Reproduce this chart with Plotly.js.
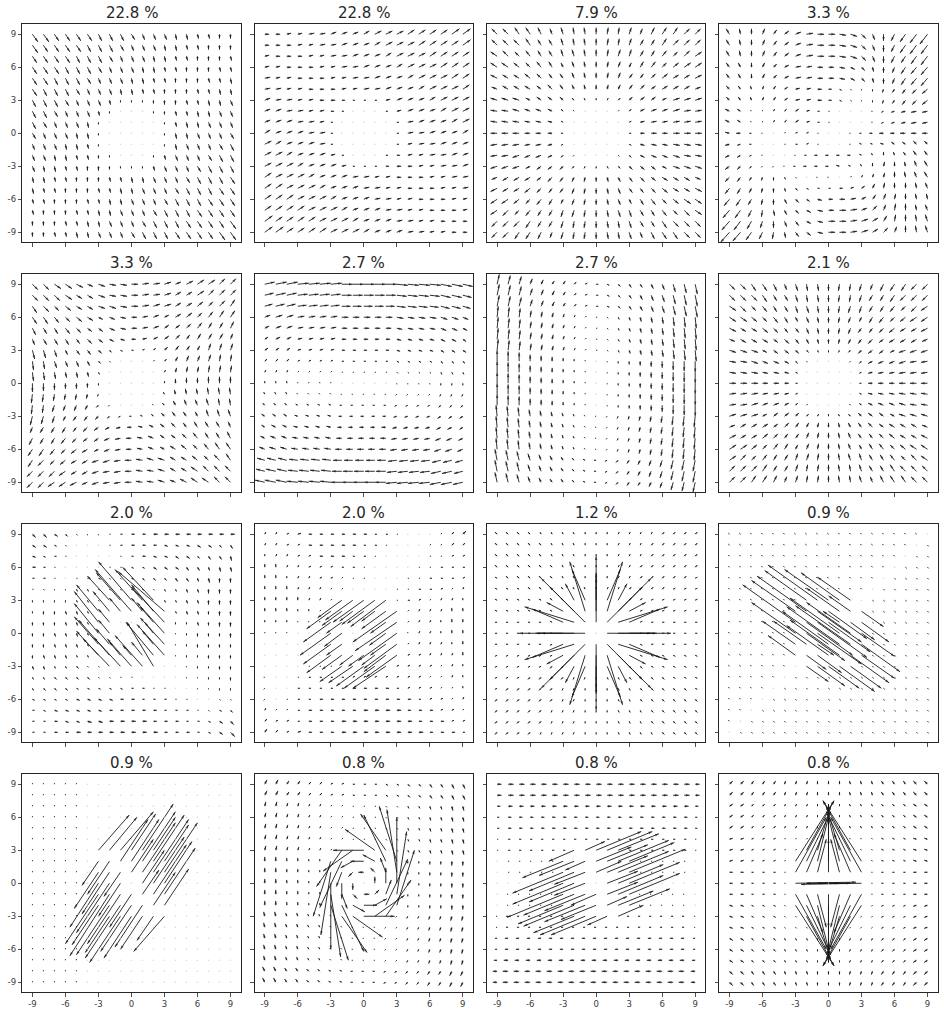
<!DOCTYPE html>
<html><head><meta charset="utf-8">
<script src="https://cdn.plot.ly/plotly-3.0.1.min.js"></script>
<style>html,body{margin:0;padding:0;background:#fff}</style>
</head><body>
<div id="chart" style="width:944px;height:1016px"></div>
<script>
const titles = ["22.8 %","22.8 %","7.9 %","3.3 %","3.3 %","2.7 %","2.7 %","2.1 %","2.0 %","2.0 %","1.2 %","0.9 %","0.9 %","0.8 %","0.8 %","0.8 %"];
const gridX = [-9,-8,-7,-6,-5,-4,-3,-2,-1,0,1,2,3,4,5,6,7,8,9];
const gridY = [9,8,7,6,5,4,3,2,1,0,-1,-2,-3,-4,-5,-6,-7,-8,-9];
const tickVals = [-9,-6,-3,0,3,6,9];
const tickText = ["-9","-6","-3","0","3","6","9"];

// vector components in tenths of an axis unit; rows y=9..-9, columns x=-9..9
const P1_U = [
[5,5,4,4,4,4,3,3,3,3,2,2,2,1,1,1,1,0,0],
[5,4,4,4,4,3,3,3,3,2,2,2,1,1,1,1,0,0,0],
[4,4,4,4,3,3,3,3,2,2,2,1,1,1,1,0,0,0,1],
[4,4,4,3,3,3,3,2,2,2,1,1,1,1,0,0,0,1,1],
[4,4,3,3,3,3,2,2,2,1,1,1,1,0,0,0,1,1,1],
[4,3,3,3,3,2,2,2,1,1,1,1,0,0,0,1,1,1,1],
[3,3,3,3,2,2,2,1,0,0,0,0,0,0,1,1,1,1,2],
[3,3,3,2,2,2,1,0,0,0,0,0,0,1,1,1,1,2,2],
[3,3,2,2,2,1,0,0,0,0,0,0,0,1,1,1,2,2,2],
[3,2,2,2,1,1,0,0,0,0,0,0,0,1,1,2,2,2,3],
[2,2,2,1,1,1,0,0,0,0,0,0,0,1,2,2,2,3,3],
[2,2,1,1,1,1,0,0,0,0,0,0,1,2,2,2,3,3,3],
[2,1,1,1,1,0,0,0,0,0,0,1,2,2,2,3,3,3,3],
[1,1,1,1,0,0,0,1,1,1,1,2,2,2,3,3,3,3,4],
[1,1,1,0,0,0,1,1,1,1,2,2,2,3,3,3,3,4,4],
[1,1,0,0,0,1,1,1,1,2,2,2,3,3,3,3,4,4,4],
[1,0,0,0,1,1,1,1,2,2,2,3,3,3,3,4,4,4,4],
[0,0,0,1,1,1,1,2,2,2,3,3,3,3,4,4,4,4,5],
[0,0,1,1,1,1,2,2,2,3,3,3,3,4,4,4,4,5,5]];
const P1_V = [
[-7,-7,-6,-6,-6,-6,-6,-6,-6,-5,-5,-5,-5,-5,-5,-4,-4,-4,-4],
[-7,-6,-6,-6,-6,-6,-6,-6,-5,-5,-5,-5,-5,-5,-4,-4,-4,-4,-4],
[-6,-6,-6,-6,-6,-6,-6,-5,-5,-5,-5,-5,-5,-4,-4,-4,-4,-4,-4],
[-6,-6,-6,-6,-6,-6,-5,-5,-5,-5,-5,-5,-4,-4,-4,-4,-4,-4,-4],
[-6,-6,-6,-6,-6,-5,-5,-5,-5,-5,-5,-4,-4,-4,-4,-4,-4,-4,-5],
[-6,-6,-6,-6,-5,-5,-5,-5,-5,-5,-4,-4,-4,-4,-4,-4,-4,-5,-5],
[-6,-6,-6,-5,-5,-5,-5,-4,-2,-2,-2,-3,-4,-4,-4,-4,-5,-5,-5],
[-6,-6,-5,-5,-5,-5,-4,-2,0,0,0,-2,-3,-4,-4,-5,-5,-5,-5],
[-6,-5,-5,-5,-5,-5,-2,0,0,0,0,0,-2,-4,-5,-5,-5,-5,-5],
[-5,-5,-5,-5,-5,-5,-2,0,0,0,0,0,-2,-5,-5,-5,-5,-5,-5],
[-5,-5,-5,-5,-5,-4,-2,0,0,0,0,0,-2,-5,-5,-5,-5,-5,-6],
[-5,-5,-5,-5,-4,-4,-3,-2,0,0,0,-2,-4,-5,-5,-5,-5,-6,-6],
[-5,-5,-5,-4,-4,-4,-4,-3,-2,-2,-2,-4,-5,-5,-5,-5,-6,-6,-6],
[-5,-5,-4,-4,-4,-4,-4,-4,-4,-5,-5,-5,-5,-5,-5,-6,-6,-6,-6],
[-5,-4,-4,-4,-4,-4,-4,-4,-5,-5,-5,-5,-5,-5,-6,-6,-6,-6,-6],
[-4,-4,-4,-4,-4,-4,-4,-5,-5,-5,-5,-5,-5,-6,-6,-6,-6,-6,-6],
[-4,-4,-4,-4,-4,-4,-5,-5,-5,-5,-5,-5,-6,-6,-6,-6,-6,-6,-6],
[-4,-4,-4,-4,-4,-5,-5,-5,-5,-5,-5,-6,-6,-6,-6,-6,-6,-6,-7],
[-4,-4,-4,-4,-5,-5,-5,-5,-5,-5,-6,-6,-6,-6,-6,-6,-6,-7,-7]];

const P2_U = [
[4,4,4,4,5,5,5,5,5,5,6,6,6,6,6,6,6,7,7],
[4,4,4,4,4,5,5,5,5,5,5,6,6,6,6,6,6,6,7],
[4,4,4,4,4,4,5,5,5,5,5,5,6,6,6,6,6,6,6],
[4,4,4,4,4,4,4,5,5,5,5,5,5,6,6,6,6,6,6],
[5,4,4,4,4,4,4,4,5,5,5,5,5,5,6,6,6,6,6],
[5,5,4,4,4,4,4,4,4,5,5,5,5,5,5,6,6,6,6],
[5,5,5,4,4,4,4,3,2,2,2,4,5,5,5,5,6,6,6],
[5,5,5,5,4,4,3,2,0,0,0,2,4,5,5,5,5,6,6],
[5,5,5,5,5,4,2,0,0,0,0,0,2,5,5,5,5,5,6],
[5,5,5,5,5,5,2,0,0,0,0,0,2,5,5,5,5,5,5],
[6,5,5,5,5,5,2,0,0,0,0,0,2,4,5,5,5,5,5],
[6,6,5,5,5,5,4,2,0,0,0,2,3,4,4,5,5,5,5],
[6,6,6,5,5,5,5,4,2,2,2,3,4,4,4,4,5,5,5],
[6,6,6,6,5,5,5,5,5,5,4,4,4,4,4,4,4,5,5],
[6,6,6,6,6,5,5,5,5,5,5,4,4,4,4,4,4,4,5],
[6,6,6,6,6,6,5,5,5,5,5,5,4,4,4,4,4,4,4],
[6,6,6,6,6,6,6,5,5,5,5,5,5,4,4,4,4,4,4],
[7,6,6,6,6,6,6,6,5,5,5,5,5,5,4,4,4,4,4],
[7,7,6,6,6,6,6,6,6,5,5,5,5,5,5,4,4,4,4]];
const P2_V = [
[0,0,1,1,1,1,2,2,2,3,3,3,3,4,4,4,4,5,5],
[0,0,0,1,1,1,1,2,2,2,3,3,3,3,4,4,4,4,5],
[1,0,0,0,1,1,1,1,2,2,2,3,3,3,3,4,4,4,4],
[1,1,0,0,0,1,1,1,1,2,2,2,3,3,3,3,4,4,4],
[1,1,1,0,0,0,1,1,1,1,2,2,2,3,3,3,3,4,4],
[1,1,1,1,0,0,0,1,1,1,1,2,2,2,3,3,3,3,4],
[2,1,1,1,1,0,0,0,0,0,0,1,2,2,2,3,3,3,3],
[2,2,1,1,1,1,0,0,0,0,0,0,1,2,2,2,3,3,3],
[2,2,2,1,1,1,0,0,0,0,0,0,0,1,2,2,2,3,3],
[3,2,2,2,1,1,0,0,0,0,0,0,0,1,1,2,2,2,3],
[3,3,2,2,2,1,0,0,0,0,0,0,0,1,1,1,2,2,2],
[3,3,3,2,2,2,1,0,0,0,0,0,0,1,1,1,1,2,2],
[3,3,3,3,2,2,2,1,0,0,0,0,0,0,1,1,1,1,2],
[4,3,3,3,3,2,2,2,1,1,1,1,0,0,0,1,1,1,1],
[4,4,3,3,3,3,2,2,2,1,1,1,1,0,0,0,1,1,1],
[4,4,4,3,3,3,3,2,2,2,1,1,1,1,0,0,0,1,1],
[4,4,4,4,3,3,3,3,2,2,2,1,1,1,1,0,0,0,1],
[5,4,4,4,4,3,3,3,3,2,2,2,1,1,1,1,0,0,0],
[5,5,4,4,4,4,3,3,3,3,2,2,2,1,1,1,1,0,0]];

const P3_U = [
[-5,-5,-4,-4,-3,-2,-2,-1,-1,0,1,1,2,2,3,4,4,5,5],
[-5,-5,-5,-4,-3,-3,-2,-1,-1,0,1,1,2,3,3,4,5,5,5],
[-6,-5,-4,-4,-3,-3,-2,-2,-1,0,1,2,2,3,3,4,4,5,6],
[-6,-6,-5,-4,-4,-3,-2,-2,-1,0,1,2,2,3,4,4,5,6,6],
[-6,-5,-5,-5,-4,-3,-3,-2,-1,0,1,2,3,3,4,5,5,5,6],
[-5,-5,-5,-5,-4,-4,-3,-2,-1,0,1,2,3,4,4,5,5,5,5],
[-6,-6,-6,-4,-4,-4,-3,-2,-1,0,1,2,3,4,4,4,6,6,6],
[-6,-6,-6,-5,-5,-4,-2,-1,0,0,0,1,2,4,5,5,6,6,6],
[-6,-6,-6,-5,-5,-4,-2,0,0,0,0,0,2,4,5,5,6,6,6],
[-6,-6,-6,-5,-5,-4,-2,0,0,0,0,0,2,4,5,5,6,6,6],
[-6,-6,-6,-5,-5,-4,-2,0,0,0,0,0,2,4,5,5,6,6,6],
[-6,-6,-6,-5,-5,-4,-2,-1,0,0,0,1,2,4,5,5,6,6,6],
[-6,-6,-6,-4,-4,-4,-3,-2,-1,0,1,2,3,4,4,4,6,6,6],
[-5,-5,-5,-5,-4,-4,-3,-2,-1,0,1,2,3,4,4,5,5,5,5],
[-6,-5,-5,-5,-4,-3,-3,-2,-1,0,1,2,3,3,4,5,5,5,6],
[-6,-6,-5,-4,-4,-3,-2,-2,-1,0,1,2,2,3,4,4,5,6,6],
[-6,-5,-4,-4,-3,-3,-2,-2,-1,0,1,2,2,3,3,4,4,5,6],
[-5,-5,-5,-4,-3,-3,-2,-1,-1,0,1,1,2,3,3,4,5,5,5],
[-5,-5,-4,-4,-3,-2,-2,-1,-1,0,1,1,2,2,3,4,4,5,5]];
const P3_V = [
[5,5,6,6,6,5,6,6,6,6,6,6,6,5,6,6,6,5,5],
[5,5,5,6,5,5,6,6,6,6,6,6,6,5,5,6,5,5,5],
[4,5,4,5,5,5,6,6,6,6,6,6,6,5,5,5,4,5,4],
[4,4,4,4,5,5,4,5,5,5,5,5,4,5,5,4,4,4,4],
[3,3,3,4,4,4,4,5,5,5,5,5,4,4,4,4,3,3,3],
[2,3,3,3,3,4,4,4,4,4,4,4,4,4,3,3,3,3,2],
[2,2,2,2,3,3,3,2,2,2,2,2,3,3,3,2,2,2,2],
[1,1,2,2,2,2,2,1,0,0,0,1,2,2,2,2,2,1,1],
[1,1,1,1,1,1,1,0,0,0,0,0,1,1,1,1,1,1,1],
[0,0,0,0,0,0,0,0,0,0,0,0,0,0,0,0,0,0,0],
[-1,-1,-1,-1,-1,-1,-1,0,0,0,0,0,-1,-1,-1,-1,-1,-1,-1],
[-1,-1,-2,-2,-2,-2,-2,-1,0,0,0,-1,-2,-2,-2,-2,-2,-1,-1],
[-2,-2,-2,-2,-3,-3,-3,-2,-2,-2,-2,-2,-3,-3,-3,-2,-2,-2,-2],
[-2,-3,-3,-3,-3,-4,-4,-4,-4,-4,-4,-4,-4,-4,-3,-3,-3,-3,-2],
[-3,-3,-3,-4,-4,-4,-4,-5,-5,-5,-5,-5,-4,-4,-4,-4,-3,-3,-3],
[-4,-4,-4,-4,-5,-5,-4,-5,-5,-5,-5,-5,-4,-5,-5,-4,-4,-4,-4],
[-4,-5,-4,-5,-5,-5,-6,-6,-6,-6,-6,-6,-6,-5,-5,-5,-4,-5,-4],
[-5,-5,-5,-6,-5,-5,-6,-6,-6,-6,-6,-6,-6,-5,-5,-6,-5,-5,-5],
[-5,-5,-6,-6,-6,-5,-6,-6,-6,-6,-6,-6,-6,-5,-6,-6,-6,-5,-5]];

const P4_U = [
[-3,-1,0,2,3,4,5,6,6,6,6,6,4,2,0,-3,-5,-6,-7],
[-3,-1,0,2,3,4,5,6,6,6,6,6,4,2,0,-3,-5,-6,-6],
[-3,-1,0,2,3,4,5,6,6,6,6,6,4,2,0,-3,-4,-5,-6],
[-3,-2,0,2,3,4,5,5,5,5,5,4,3,1,0,-2,-4,-5,-6],
[-3,-2,0,2,3,4,5,5,5,5,5,4,3,1,0,-2,-4,-5,-6],
[-3,-2,-1,1,2,3,4,4,4,3,2,1,0,0,-1,-2,-3,-4,-5],
[-3,-2,-1,1,2,3,4,4,4,3,2,1,0,0,-1,-2,-3,-4,-5],
[-4,-3,-1,0,1,2,3,3,2,1,0,0,0,-1,-2,-3,-4,-5,-5],
[-4,-3,-1,0,1,2,3,3,2,1,0,0,0,-1,-2,-3,-4,-5,-5],
[-4,-4,-2,-1,0,1,2,2,1,0,0,-1,-2,-3,-4,-4,-5,-5,-5],
[-4,-3,-2,0,0,1,2,2,1,0,0,-1,-2,-2,-3,-3,-3,-3,-3],
[-4,-3,-2,-1,0,0,-1,-2,-3,-3,-3,-3,-2,-1,0,-1,-2,-3,-3],
[-4,-3,-2,-1,-1,-1,-2,-3,-3,-3,-3,-2,-1,0,1,0,-1,-2,-3],
[-4,-3,-2,-1,0,1,1,0,-1,-1,0,1,1,1,1,0,-1,-2,-3],
[-4,-3,-2,-1,0,1,2,2,2,2,3,3,3,2,1,0,0,-1,-2],
[-5,-4,-3,-1,0,2,3,3,4,4,5,5,4,3,2,1,0,-1,-1],
[-6,-5,-3,-1,1,2,3,4,5,5,6,6,5,4,2,1,0,-1,-2],
[-7,-6,-4,-2,0,2,3,4,5,6,6,6,6,5,3,1,0,-1,-2],
[-8,-7,-5,-3,-1,1,3,4,5,6,6,6,6,5,4,2,0,-1,-2]];
const P4_V = [
[5,5,5,5,4,3,2,1,0,0,-1,-2,-4,-5,-6,-6,-7,-8,-9],
[5,5,5,5,4,3,2,1,0,0,-1,-2,-4,-5,-6,-6,-7,-8,-8],
[5,5,5,5,4,3,2,1,0,0,-1,-2,-4,-5,-6,-6,-6,-7,-8],
[4,4,4,4,3,2,1,1,0,0,-1,-2,-3,-4,-5,-5,-6,-6,-7],
[4,4,4,4,3,2,1,1,0,0,-1,-2,-3,-4,-5,-5,-6,-6,-7],
[3,3,3,3,3,2,1,1,0,0,-1,-1,-1,-2,-3,-3,-4,-4,-4],
[3,3,3,3,3,2,1,1,0,0,-1,-1,-1,-2,-3,-3,-4,-4,-4],
[2,2,1,1,2,2,2,1,0,0,0,0,0,0,-1,-1,-1,-1,-1],
[2,2,1,1,2,2,2,1,0,0,0,0,0,0,-1,-1,-1,-1,-1],
[1,0,0,0,0,1,1,1,0,0,0,0,0,0,0,0,0,0,0],
[-1,-1,0,0,0,0,0,1,0,0,0,0,1,1,1,2,2,3,3],
[-2,-2,-1,0,0,0,0,0,0,0,0,0,1,2,3,3,3,4,4],
[-3,-3,-2,-1,-1,0,0,0,0,0,1,1,2,3,4,4,4,5,5],
[-4,-4,-3,-3,-3,-2,-1,0,0,0,0,1,2,3,4,5,5,5,5],
[-5,-5,-4,-4,-4,-3,-2,-1,0,0,0,1,2,4,5,5,5,5,5],
[-6,-6,-5,-5,-5,-4,-3,-2,-1,0,0,1,2,4,5,5,5,5,5],
[-7,-7,-6,-6,-5,-4,-3,-2,-1,0,0,1,2,4,5,6,6,5,5],
[-8,-8,-7,-6,-6,-5,-4,-2,-1,0,0,1,2,3,5,6,6,6,6],
[-9,-8,-7,-6,-6,-5,-4,-3,-1,0,0,1,2,3,4,5,6,6,6]];

const P5_U = [
[5,5,6,6,6,5,6,6,6,6,6,6,6,5,6,6,6,5,5],
[5,5,5,6,5,5,6,6,6,6,6,6,6,5,5,6,5,5,5],
[4,5,4,5,5,5,6,6,6,6,6,6,6,5,5,5,4,5,4],
[4,4,4,4,5,5,4,5,5,5,5,5,4,5,5,4,4,4,4],
[3,3,3,4,4,4,4,5,5,5,5,5,4,4,4,4,3,3,3],
[2,3,3,3,3,4,4,4,4,4,4,4,4,4,3,3,3,3,2],
[2,2,2,2,3,3,3,2,2,2,2,2,3,3,3,2,2,2,2],
[1,1,2,2,2,2,2,1,0,0,0,1,2,2,2,2,2,1,1],
[1,1,1,1,1,1,1,0,0,0,0,0,1,1,1,1,1,1,1],
[0,0,0,0,0,0,0,0,0,0,0,0,0,0,0,0,0,0,0],
[-1,-1,-1,-1,-1,-1,-1,0,0,0,0,0,-1,-1,-1,-1,-1,-1,-1],
[-1,-1,-2,-2,-2,-2,-2,-1,0,0,0,-1,-2,-2,-2,-2,-2,-1,-1],
[-2,-2,-2,-2,-3,-3,-3,-2,-2,-2,-2,-2,-3,-3,-3,-2,-2,-2,-2],
[-2,-3,-3,-3,-3,-4,-4,-4,-4,-4,-4,-4,-4,-4,-3,-3,-3,-3,-2],
[-3,-3,-3,-4,-4,-4,-4,-5,-5,-5,-5,-5,-4,-4,-4,-4,-3,-3,-3],
[-4,-4,-4,-4,-5,-5,-4,-5,-5,-5,-5,-5,-4,-5,-5,-4,-4,-4,-4],
[-4,-5,-4,-5,-5,-5,-6,-6,-6,-6,-6,-6,-6,-5,-5,-5,-4,-5,-4],
[-5,-5,-5,-6,-5,-5,-6,-6,-6,-6,-6,-6,-6,-5,-5,-6,-5,-5,-5],
[-5,-5,-6,-6,-6,-5,-6,-6,-6,-6,-6,-6,-6,-5,-6,-6,-6,-5,-5]];
const P5_V = [
[-5,-5,-4,-4,-3,-2,-2,-1,-1,0,1,1,2,2,3,4,4,5,5],
[-5,-5,-5,-4,-3,-3,-2,-1,-1,0,1,1,2,3,3,4,5,5,5],
[-6,-5,-4,-4,-3,-3,-2,-2,-1,0,1,2,2,3,3,4,4,5,6],
[-6,-6,-5,-4,-4,-3,-2,-2,-1,0,1,2,2,3,4,4,5,6,6],
[-6,-5,-5,-5,-4,-3,-3,-2,-1,0,1,2,3,3,4,5,5,5,6],
[-5,-5,-5,-5,-4,-4,-3,-2,-1,0,1,2,3,4,4,5,5,5,5],
[-8,-7,-6,-4,-4,-4,-3,-2,-1,0,1,2,3,4,4,4,6,6,6],
[-8,-7,-6,-5,-5,-4,-2,-1,0,0,0,1,2,4,5,5,6,6,6],
[-8,-7,-6,-5,-5,-4,-2,0,0,0,0,0,2,4,5,5,6,6,6],
[-8,-7,-6,-5,-5,-4,-2,0,0,0,0,0,2,4,5,5,6,6,6],
[-8,-7,-6,-5,-5,-4,-2,0,0,0,0,0,2,4,5,5,6,6,6],
[-8,-7,-6,-5,-5,-4,-2,-1,0,0,0,1,2,4,5,5,6,6,6],
[-8,-7,-6,-4,-4,-4,-3,-2,-1,0,1,2,3,4,4,4,6,6,6],
[-5,-5,-5,-5,-4,-4,-3,-2,-1,0,1,2,3,4,4,5,5,5,5],
[-6,-5,-5,-5,-4,-3,-3,-2,-1,0,1,2,3,3,4,5,5,5,6],
[-6,-6,-5,-4,-4,-3,-2,-2,-1,0,1,2,2,3,4,4,5,6,6],
[-6,-5,-4,-4,-3,-3,-2,-2,-1,0,1,2,2,3,3,4,4,5,6],
[-5,-5,-5,-4,-3,-3,-2,-1,-1,0,1,1,2,3,3,4,5,5,5],
[-5,-5,-4,-4,-3,-2,-2,-1,-1,0,1,1,2,2,3,4,4,5,5]];

const P6_U = [
[9,10,10,10,10,10,10,10,10,10,10,10,10,10,10,10,10,10,9],
[8,9,9,9,9,9,9,9,9,9,9,9,9,9,9,9,9,9,8],
[7,8,8,8,8,8,8,8,8,8,8,8,8,8,8,8,8,8,7],
[5,6,6,6,6,6,6,6,6,6,6,6,6,6,6,6,6,6,5],
[4,5,5,5,5,5,5,5,5,5,5,5,5,5,5,5,5,5,4],
[3,4,4,4,4,4,4,4,4,4,4,4,4,4,4,4,4,4,3],
[3,3,3,3,3,3,3,3,3,3,3,3,3,3,3,3,3,3,3],
[2,2,2,2,2,2,2,2,2,2,2,2,2,2,2,2,2,2,2],
[1,1,1,1,1,1,1,1,1,1,1,1,1,1,1,1,1,1,1],
[0,0,0,0,0,0,0,0,0,0,0,0,0,0,0,0,0,0,0],
[-1,-1,-1,-1,-1,-1,-1,-1,-1,-1,-1,-1,-1,-1,-1,-1,-1,-1,-1],
[-2,-2,-2,-2,-2,-2,-2,-2,-2,-2,-2,-2,-2,-2,-2,-2,-2,-2,-2],
[-3,-3,-3,-3,-3,-3,-3,-3,-3,-3,-3,-3,-3,-3,-3,-3,-3,-3,-3],
[-3,-4,-4,-4,-4,-4,-4,-4,-4,-4,-4,-4,-4,-4,-4,-4,-4,-4,-3],
[-4,-5,-5,-5,-5,-5,-5,-5,-5,-5,-5,-5,-5,-5,-5,-5,-5,-5,-4],
[-5,-6,-6,-6,-6,-6,-6,-6,-6,-6,-6,-6,-6,-6,-6,-6,-6,-6,-5],
[-7,-8,-8,-8,-8,-8,-8,-8,-8,-8,-8,-8,-8,-8,-8,-8,-8,-8,-7],
[-8,-9,-9,-9,-9,-9,-9,-9,-9,-9,-9,-9,-9,-9,-9,-9,-9,-9,-8],
[-9,-10,-10,-10,-10,-10,-10,-10,-10,-10,-10,-10,-10,-10,-10,-10,-10,-10,-9]];
const P6_V = [
[2,2,2,1,1,1,1,0,0,0,0,0,-1,-1,-1,-1,-2,-2,-2],
[2,2,2,1,1,1,1,0,0,0,0,0,-1,-1,-1,-1,-2,-2,-2],
[2,2,2,1,1,1,1,0,0,0,0,0,-1,-1,-1,-1,-2,-2,-2],
[2,2,2,1,1,1,1,0,0,0,0,0,-1,-1,-1,-1,-2,-2,-2],
[2,2,2,1,1,1,1,0,0,0,0,0,-1,-1,-1,-1,-2,-2,-2],
[2,2,2,1,1,1,1,0,0,0,0,0,-1,-1,-1,-1,-2,-2,-2],
[2,2,2,1,1,1,1,0,0,0,0,0,-1,-1,-1,-1,-2,-2,-2],
[2,2,2,1,1,1,1,0,0,0,0,0,-1,-1,-1,-1,-2,-2,-2],
[2,2,2,1,1,1,1,0,0,0,0,0,-1,-1,-1,-1,-2,-2,-2],
[2,2,2,1,1,1,1,0,0,0,0,0,-1,-1,-1,-1,-2,-2,-2],
[2,2,2,1,1,1,1,0,0,0,0,0,-1,-1,-1,-1,-2,-2,-2],
[2,2,2,1,1,1,1,0,0,0,0,0,-1,-1,-1,-1,-2,-2,-2],
[2,2,2,1,1,1,1,0,0,0,0,0,-1,-1,-1,-1,-2,-2,-2],
[2,2,2,1,1,1,1,0,0,0,0,0,-1,-1,-1,-1,-2,-2,-2],
[2,2,2,1,1,1,1,0,0,0,0,0,-1,-1,-1,-1,-2,-2,-2],
[2,2,2,1,1,1,1,0,0,0,0,0,-1,-1,-1,-1,-2,-2,-2],
[2,2,2,1,1,1,1,0,0,0,0,0,-1,-1,-1,-1,-2,-2,-2],
[2,2,2,1,1,1,1,0,0,0,0,0,-1,-1,-1,-1,-2,-2,-2],
[2,2,2,1,1,1,1,0,0,0,0,0,-1,-1,-1,-1,-2,-2,-2]];

const P7_U = [
[2,2,2,2,2,2,2,2,2,2,2,2,2,2,2,2,2,2,2],
[2,2,2,2,2,2,2,2,2,2,2,2,2,2,2,2,2,2,2],
[2,2,2,2,2,2,2,2,2,2,2,2,2,2,2,2,2,2,2],
[1,1,1,1,1,1,1,1,1,1,1,1,1,1,1,1,1,1,1],
[1,1,1,1,1,1,1,1,1,1,1,1,1,1,1,1,1,1,1],
[1,1,1,1,1,1,1,1,1,1,1,1,1,1,1,1,1,1,1],
[1,1,1,1,1,1,1,1,1,1,1,1,1,1,1,1,1,1,1],
[0,0,0,0,0,0,0,0,0,0,0,0,0,0,0,0,0,0,0],
[0,0,0,0,0,0,0,0,0,0,0,0,0,0,0,0,0,0,0],
[0,0,0,0,0,0,0,0,0,0,0,0,0,0,0,0,0,0,0],
[0,0,0,0,0,0,0,0,0,0,0,0,0,0,0,0,0,0,0],
[0,0,0,0,0,0,0,0,0,0,0,0,0,0,0,0,0,0,0],
[-1,-1,-1,-1,-1,-1,-1,-1,-1,-1,-1,-1,-1,-1,-1,-1,-1,-1,-1],
[-1,-1,-1,-1,-1,-1,-1,-1,-1,-1,-1,-1,-1,-1,-1,-1,-1,-1,-1],
[-1,-1,-1,-1,-1,-1,-1,-1,-1,-1,-1,-1,-1,-1,-1,-1,-1,-1,-1],
[-1,-1,-1,-1,-1,-1,-1,-1,-1,-1,-1,-1,-1,-1,-1,-1,-1,-1,-1],
[-2,-2,-2,-2,-2,-2,-2,-2,-2,-2,-2,-2,-2,-2,-2,-2,-2,-2,-2],
[-2,-2,-2,-2,-2,-2,-2,-2,-2,-2,-2,-2,-2,-2,-2,-2,-2,-2,-2],
[-2,-2,-2,-2,-2,-2,-2,-2,-2,-2,-2,-2,-2,-2,-2,-2,-2,-2,-2]];
const P7_V = [
[9,8,7,5,4,3,3,2,1,0,-1,-2,-3,-3,-4,-5,-7,-8,-9],
[10,9,8,6,5,4,3,2,1,0,-1,-2,-3,-4,-5,-6,-8,-9,-10],
[10,9,8,6,5,4,3,2,1,0,-1,-2,-3,-4,-5,-6,-8,-9,-10],
[10,9,8,6,5,4,3,2,1,0,-1,-2,-3,-4,-5,-6,-8,-9,-10],
[10,9,8,6,5,4,3,2,1,0,-1,-2,-3,-4,-5,-6,-8,-9,-10],
[10,9,8,6,5,4,3,2,1,0,-1,-2,-3,-4,-5,-6,-8,-9,-10],
[10,9,8,6,5,4,3,2,1,0,-1,-2,-3,-4,-5,-6,-8,-9,-10],
[10,9,8,6,5,4,3,2,1,0,-1,-2,-3,-4,-5,-6,-8,-9,-10],
[10,9,8,6,5,4,3,2,1,0,-1,-2,-3,-4,-5,-6,-8,-9,-10],
[10,9,8,6,5,4,3,2,1,0,-1,-2,-3,-4,-5,-6,-8,-9,-10],
[10,9,8,6,5,4,3,2,1,0,-1,-2,-3,-4,-5,-6,-8,-9,-10],
[10,9,8,6,5,4,3,2,1,0,-1,-2,-3,-4,-5,-6,-8,-9,-10],
[10,9,8,6,5,4,3,2,1,0,-1,-2,-3,-4,-5,-6,-8,-9,-10],
[10,9,8,6,5,4,3,2,1,0,-1,-2,-3,-4,-5,-6,-8,-9,-10],
[10,9,8,6,5,4,3,2,1,0,-1,-2,-3,-4,-5,-6,-8,-9,-10],
[10,9,8,6,5,4,3,2,1,0,-1,-2,-3,-4,-5,-6,-8,-9,-10],
[10,9,8,6,5,4,3,2,1,0,-1,-2,-3,-4,-5,-6,-8,-9,-10],
[10,9,8,6,5,4,3,2,1,0,-1,-2,-3,-4,-5,-6,-8,-9,-10],
[9,8,7,5,4,3,3,2,1,0,-1,-2,-3,-3,-4,-5,-7,-8,-9]];

const P8_U = [
[5,5,4,4,3,2,2,1,1,0,-1,-1,-2,-2,-3,-4,-4,-5,-5],
[5,5,5,4,3,3,2,1,1,0,-1,-1,-2,-3,-3,-4,-5,-5,-5],
[6,5,4,4,3,3,2,2,1,0,-1,-2,-2,-3,-3,-4,-4,-5,-6],
[6,6,5,4,4,3,2,2,1,0,-1,-2,-2,-3,-4,-4,-5,-6,-6],
[6,5,5,5,4,3,3,2,1,0,-1,-2,-3,-3,-4,-5,-5,-5,-6],
[5,5,5,5,4,4,3,2,1,0,-1,-2,-3,-4,-4,-5,-5,-5,-5],
[6,6,6,4,4,4,3,2,1,0,-1,-2,-3,-4,-4,-4,-6,-6,-6],
[6,6,6,5,5,4,2,1,0,0,0,-1,-2,-4,-5,-5,-6,-6,-6],
[6,6,6,5,5,4,2,0,0,0,0,0,-2,-4,-5,-5,-6,-6,-6],
[6,6,6,5,5,4,2,0,0,0,0,0,-2,-4,-5,-5,-6,-6,-6],
[6,6,6,5,5,4,2,0,0,0,0,0,-2,-4,-5,-5,-6,-6,-6],
[6,6,6,5,5,4,2,1,0,0,0,-1,-2,-4,-5,-5,-6,-6,-6],
[6,6,6,4,4,4,3,2,1,0,-1,-2,-3,-4,-4,-4,-6,-6,-6],
[5,5,5,5,4,4,3,2,1,0,-1,-2,-3,-4,-4,-5,-5,-5,-5],
[6,5,5,5,4,3,3,2,1,0,-1,-2,-3,-3,-4,-5,-5,-5,-6],
[6,6,5,4,4,3,2,2,1,0,-1,-2,-2,-3,-4,-4,-5,-6,-6],
[6,5,4,4,3,3,2,2,1,0,-1,-2,-2,-3,-3,-4,-4,-5,-6],
[5,5,5,4,3,3,2,1,1,0,-1,-1,-2,-3,-3,-4,-5,-5,-5],
[5,5,4,4,3,2,2,1,1,0,-1,-1,-2,-2,-3,-4,-4,-5,-5]];
const P8_V = [
[-5,-5,-6,-6,-6,-5,-6,-6,-6,-6,-6,-6,-6,-5,-6,-6,-6,-5,-5],
[-5,-5,-5,-6,-5,-5,-6,-6,-6,-6,-6,-6,-6,-5,-5,-6,-5,-5,-5],
[-4,-5,-4,-5,-5,-5,-6,-6,-6,-6,-6,-6,-6,-5,-5,-5,-4,-5,-4],
[-4,-4,-4,-4,-5,-5,-4,-5,-5,-5,-5,-5,-4,-5,-5,-4,-4,-4,-4],
[-3,-3,-3,-4,-4,-4,-4,-5,-5,-5,-5,-5,-4,-4,-4,-4,-3,-3,-3],
[-2,-3,-3,-3,-3,-4,-4,-4,-4,-4,-4,-4,-4,-4,-3,-3,-3,-3,-2],
[-2,-2,-2,-2,-3,-3,-3,-2,-2,-2,-2,-2,-3,-3,-3,-2,-2,-2,-2],
[-1,-1,-2,-2,-2,-2,-2,-1,0,0,0,-1,-2,-2,-2,-2,-2,-1,-1],
[-1,-1,-1,-1,-1,-1,-1,0,0,0,0,0,-1,-1,-1,-1,-1,-1,-1],
[0,0,0,0,0,0,0,0,0,0,0,0,0,0,0,0,0,0,0],
[1,1,1,1,1,1,1,0,0,0,0,0,1,1,1,1,1,1,1],
[1,1,2,2,2,2,2,1,0,0,0,1,2,2,2,2,2,1,1],
[2,2,2,2,3,3,3,2,2,2,2,2,3,3,3,2,2,2,2],
[2,3,3,3,3,4,4,4,4,4,4,4,4,4,3,3,3,3,2],
[3,3,3,4,4,4,4,5,5,5,5,5,4,4,4,4,3,3,3],
[4,4,4,4,5,5,4,5,5,5,5,5,4,5,5,4,4,4,4],
[4,5,4,5,5,5,6,6,6,6,6,6,6,5,5,5,4,5,4],
[5,5,5,6,5,5,6,6,6,6,6,6,6,5,5,6,5,5,5],
[5,5,6,6,6,5,6,6,6,6,6,6,6,5,6,6,6,5,5]];

const P9_U = [
[3,3,3,2,1,0,0,1,2,3,3,4,4,4,4,4,4,4,4],
[3,3,2,1,0,0,0,1,2,3,3,3,3,3,3,3,3,2,2],
[3,2,2,1,0,0,0,0,1,2,3,3,3,3,3,2,2,2,1],
[3,2,1,0,0,0,0,1,1,2,2,3,3,3,2,2,1,1,1],
[2,2,1,0,1,1,2,1,1,2,2,2,2,2,2,1,1,0,0],
[1,1,0,0,1,1,1,1,1,1,1,1,1,1,1,1,0,0,0],
[0,0,0,0,1,1,1,-20,-22,-30,-25,-28,1,1,1,1,0,0,0],
[0,0,0,1,1,1,-20,-15,-10,-33,-10,-20,-42,1,1,1,0,0,0],
[0,0,0,1,1,1,-22,-10,0,0,0,-12,-30,0,0,1,0,0,0],
[0,0,1,1,1,1,-22,-10,0,0,0,-8,-25,0,0,0,0,0,0],
[0,0,1,1,1,1,-22,-12,0,0,0,-10,-22,0,0,0,0,0,0],
[0,1,1,1,1,1,-20,-28,-10,-8,-10,-25,-25,0,0,0,0,0,0],
[1,1,1,1,2,1,1,-24,-24,-22,-25,-24,0,0,0,0,0,0,0],
[1,1,2,2,2,2,1,1,1,1,0,0,0,0,0,0,0,0,0],
[1,2,2,2,2,2,2,2,2,2,2,1,1,0,0,0,0,0,0],
[2,2,2,2,3,3,3,3,3,3,2,2,2,1,1,0,0,1,1],
[2,2,3,3,3,3,3,3,3,3,3,3,2,2,2,1,1,2,2],
[2,2,3,3,3,4,4,4,4,4,4,3,3,3,2,2,2,3,3],
[2,2,3,3,4,4,4,4,4,4,4,4,3,3,3,2,2,3,4]];
const P9_V = [
[-3,-3,-2,-2,-1,-1,-1,0,0,0,0,0,0,0,0,0,0,0,0],
[-2,-2,-1,-1,0,0,0,0,0,0,0,0,-1,-1,-1,-2,-2,-2,-3],
[-1,-1,0,0,0,0,0,0,0,0,0,-1,-1,-2,-2,-2,-3,-3,-4],
[0,0,0,0,0,0,0,0,0,-1,-1,-2,-2,-2,-3,-3,-3,-4,-4],
[0,0,0,0,0,0,-1,-1,-1,-1,-2,-2,-2,-3,-3,-3,-4,-4,-4],
[0,-1,-1,-1,-2,-2,-1,-1,-1,-1,-1,-1,-2,-2,-3,-3,-4,-4,-4],
[-2,-2,-2,-2,-2,-2,-1,22,25,35,28,30,-2,-2,-3,-3,-4,-4,-4],
[-2,-3,-3,-3,-3,-2,24,18,12,38,12,24,36,-2,-3,-3,-3,-4,-4],
[-3,-3,-3,-3,-3,-2,28,12,0,0,0,14,32,-2,-2,-3,-3,-4,-4],
[-3,-3,-3,-3,-3,-2,27,12,0,0,0,10,28,-1,-2,-3,-3,-3,-4],
[-3,-3,-3,-3,-3,-2,25,14,0,0,0,12,24,-1,-2,-3,-3,-3,-3],
[-3,-3,-3,-3,-2,-2,22,32,12,9,12,30,28,-1,-2,-2,-3,-3,-3],
[-3,-3,-2,-2,-2,-1,-1,25,26,25,28,40,0,0,-1,-2,-2,-3,-3],
[-2,-2,-2,-2,-2,-2,-1,-1,0,0,0,0,0,0,-1,-1,-2,-2,-3],
[-2,-2,-2,-2,-1,-1,-1,-1,-1,0,0,0,0,0,0,-1,-1,-2,-2],
[-1,-1,-1,-1,-1,-1,-1,-1,0,0,0,0,0,0,0,0,0,-1,-1],
[0,-1,-1,-1,-1,-1,-1,0,0,0,0,0,0,0,0,0,-1,-1,-2],
[0,0,0,-1,-1,-1,-1,0,0,0,0,0,0,0,0,0,-1,-2,-3],
[0,0,0,0,0,0,0,0,0,0,0,0,0,0,0,0,-1,-2,-4]];

const P10_U = [
[1,1,2,3,3,3,3,3,3,3,2,2,1,0,0,0,1,2,3],
[1,1,2,2,3,3,3,3,3,2,2,1,0,0,0,1,1,2,2],
[0,1,1,2,2,3,3,3,2,2,1,0,0,0,0,1,1,2,2],
[0,0,1,1,2,2,2,2,2,1,0,0,0,0,1,1,2,2,2],
[0,0,0,1,1,2,2,1,1,1,0,0,0,1,1,2,2,2,2],
[0,0,0,1,1,1,1,1,0,0,0,0,1,1,2,2,2,1,1],
[0,0,0,0,1,1,1,-22,-25,-28,-30,-32,1,2,2,1,1,1,0],
[0,0,0,0,0,1,-22,-18,-12,-15,-12,-22,-40,1,1,1,1,0,0],
[0,0,0,0,0,0,-25,-14,0,0,0,-14,-38,1,1,1,0,0,0],
[0,0,0,0,0,0,-28,-16,0,0,0,-15,-35,0,1,1,0,0,0],
[0,0,0,0,0,0,-25,-14,0,0,0,-14,-30,1,1,1,1,0,0],
[0,0,0,0,0,0,-22,-18,-12,-14,-12,-20,-28,2,2,1,1,1,0],
[0,0,0,0,1,1,1,-20,-22,-25,-28,-30,2,2,2,2,1,1,0],
[-1,0,0,1,2,2,2,2,2,2,2,2,2,2,2,1,1,1,0],
[-1,0,0,2,2,2,2,2,3,3,3,3,2,2,2,2,1,1,0],
[-1,0,1,2,2,3,3,3,3,3,3,3,3,3,2,2,2,1,1],
[1,1,1,2,3,3,3,3,3,4,4,4,4,3,3,3,2,2,1],
[2,2,2,2,3,3,3,4,4,4,4,4,4,4,3,3,3,2,2],
[2,2,2,3,3,3,3,4,4,4,4,4,4,4,4,3,3,3,2]];
const P10_V = [
[2,2,1,1,0,0,0,0,0,0,0,0,0,0,0,0,1,2,3],
[2,2,1,1,0,0,0,0,0,0,0,0,0,0,0,1,1,2,2],
[2,2,2,1,1,0,0,0,0,0,0,0,0,0,0,0,0,1,1],
[3,3,2,2,1,1,1,0,0,0,0,0,0,0,0,0,0,0,0],
[3,3,2,2,2,1,1,1,0,0,0,0,0,0,0,0,0,0,1],
[3,3,3,2,2,2,1,1,0,0,0,0,0,0,0,0,1,1,2],
[3,3,3,3,2,2,1,-16,-18,-20,-22,-24,0,0,1,1,2,2,2],
[3,3,3,2,2,1,-16,-13,-9,-11,-9,-16,-28,1,2,2,2,3,3],
[2,2,2,1,1,1,-18,-10,0,0,0,-10,-26,1,2,2,2,3,3],
[1,1,1,0,0,0,-20,-12,0,0,0,-11,-25,1,2,2,2,3,3],
[0,0,0,0,0,0,-18,-10,0,0,0,-10,-22,1,2,2,2,2,3],
[0,0,0,0,0,0,-16,-13,-9,-10,-9,-15,-20,1,1,2,2,2,3],
[0,0,0,0,0,0,0,-14,-15,-18,-20,-20,1,1,1,1,1,2,2],
[0,0,0,0,0,0,0,0,1,1,1,1,1,1,1,1,1,2,2],
[-1,0,0,0,0,0,0,0,0,0,0,0,0,1,1,1,1,1,2],
[-1,0,0,0,0,0,0,0,0,0,0,0,0,0,0,1,1,1,2],
[2,1,1,0,0,0,0,0,0,0,0,0,0,0,0,0,1,1,1],
[2,1,1,0,0,0,0,0,0,0,0,0,0,0,0,0,0,1,1],
[3,2,1,1,0,0,0,0,0,0,0,0,0,0,0,0,0,0,0]];

const P11_U = [
[-2,-2,-2,-2,-1,-1,-1,-1,0,0,0,1,1,1,1,2,2,2,2],
[-2,-2,-2,-2,-2,-1,-1,-1,0,0,0,1,1,1,2,2,2,2,2],
[-2,-2,-2,-2,-2,-1,-1,-1,0,0,0,1,1,1,2,2,2,2,2],
[-2,-2,-2,-2,-2,-2,-1,-1,0,0,0,1,1,2,2,2,2,2,2],
[-2,-2,-2,-2,-2,-2,-1,-1,0,0,0,1,1,2,2,2,2,2,2],
[-2,-2,-2,-2,-2,-2,-2,-1,-1,0,1,1,2,2,2,2,2,2,2],
[-2,-2,-2,-2,-2,-2,-2,-8,-12,0,12,8,2,2,2,2,2,2,2],
[-2,-2,-2,-2,-2,-2,-15,-22,-14,0,14,22,15,2,2,2,2,2,2],
[-2,-2,-2,-2,-2,-2,-28,-45,-40,0,40,45,28,2,2,2,2,2,2],
[-2,-2,-2,-2,-2,-2,-20,-35,-60,0,58,35,20,2,2,2,2,2,2],
[-2,-2,-2,-2,-2,-2,-28,-45,-40,0,40,45,28,2,2,2,2,2,2],
[-2,-2,-2,-2,-2,-2,-15,-22,-14,0,14,22,15,2,2,2,2,2,2],
[-2,-2,-2,-2,-2,-2,-2,-8,-12,0,12,8,2,2,2,2,2,2,2],
[-2,-2,-2,-2,-2,-2,-2,-1,-1,0,1,1,2,2,2,2,2,2,2],
[-2,-2,-2,-2,-2,-2,-1,-1,0,0,0,1,1,2,2,2,2,2,2],
[-2,-2,-2,-2,-2,-2,-1,-1,0,0,0,1,1,2,2,2,2,2,2],
[-2,-2,-2,-2,-2,-1,-1,-1,0,0,0,1,1,1,2,2,2,2,2],
[-2,-2,-2,-2,-2,-1,-1,-1,0,0,0,1,1,1,2,2,2,2,2],
[-2,-2,-2,-2,-1,-1,-1,-1,0,0,0,1,1,1,1,2,2,2,2]];
const P11_V = [
[2,2,2,2,2,2,2,2,2,2,2,2,2,2,2,2,2,2,2],
[2,2,2,2,2,2,2,2,2,2,2,2,2,2,2,2,2,2,2],
[2,2,2,2,2,2,2,2,2,2,2,2,2,2,2,2,2,2,2],
[2,2,2,2,2,2,2,2,2,2,2,2,2,2,2,2,2,2,2],
[1,2,2,2,2,2,2,2,2,2,2,2,2,2,2,2,2,2,1],
[1,1,1,2,2,2,2,2,2,2,2,2,2,2,2,2,1,1,1],
[1,1,1,1,1,2,2,15,28,20,28,15,2,2,1,1,1,1,1],
[1,1,1,1,1,1,8,22,45,35,45,22,8,1,1,1,1,1,1],
[0,0,0,0,0,1,12,14,40,60,40,14,12,1,0,0,0,0,0],
[0,0,0,0,0,0,0,0,0,0,0,0,0,0,0,0,0,0,0],
[0,0,0,0,0,-1,-12,-14,-40,-60,-40,-14,-12,-1,0,0,0,0,0],
[-1,-1,-1,-1,-1,-1,-8,-22,-45,-35,-45,-22,-8,-1,-1,-1,-1,-1,-1],
[-1,-1,-1,-1,-1,-2,-2,-15,-28,-20,-28,-15,-2,-2,-1,-1,-1,-1,-1],
[-1,-1,-1,-2,-2,-2,-2,-2,-2,-2,-2,-2,-2,-2,-2,-2,-1,-1,-1],
[-1,-2,-2,-2,-2,-2,-2,-2,-2,-2,-2,-2,-2,-2,-2,-2,-2,-2,-1],
[-2,-2,-2,-2,-2,-2,-2,-2,-2,-2,-2,-2,-2,-2,-2,-2,-2,-2,-2],
[-2,-2,-2,-2,-2,-2,-2,-2,-2,-2,-2,-2,-2,-2,-2,-2,-2,-2,-2],
[-2,-2,-2,-2,-2,-2,-2,-2,-2,-2,-2,-2,-2,-2,-2,-2,-2,-2,-2],
[-2,-2,-2,-2,-2,-2,-2,-2,-2,-2,-2,-2,-2,-2,-2,-2,-2,-2,-2]];

const P12_U = [
[-1,-1,-1,-1,-1,-1,-1,-1,-1,-1,-1,-1,-1,-1,-1,-1,-1,-1,0],
[-1,-1,-1,-1,-1,-1,-1,-1,-1,-1,-1,-1,-1,-1,-1,-1,-1,0,1],
[-1,-1,-1,-1,-1,-1,-1,-1,-1,-1,-1,-1,-1,-1,-1,-1,0,1,1],
[-1,-1,-1,-1,-1,-1,-1,-1,-1,-1,-1,-1,-1,-1,-1,0,1,1,1],
[-1,-1,-1,-1,-1,-1,-1,-1,-1,-1,-1,-1,-1,-1,0,1,1,1,1],
[-1,-1,-1,-1,-1,-1,-1,-1,-1,-1,-1,-1,-1,0,1,1,1,1,1],
[-1,-1,-1,-1,-1,-1,-1,-38,-45,-40,-35,-30,0,1,1,1,1,1,1],
[-1,-1,-1,-1,-1,-1,-40,-45,40,35,-30,-20,20,1,1,1,1,1,1],
[-1,-1,-1,-1,-1,-1,-48,42,45,38,-15,22,25,1,1,1,1,1,1],
[-1,-1,-1,-1,-1,-1,-40,35,40,0,-45,-40,30,1,1,1,1,1,1],
[-1,-1,-1,-1,-1,-1,-30,-30,15,-42,-48,-50,35,1,1,1,1,1,1],
[-1,-1,-1,-1,-1,-1,-25,18,22,-38,-45,35,30,1,1,1,1,1,1],
[-1,-1,-1,-1,-1,-1,0,20,25,28,32,28,1,1,1,1,1,1,1],
[-1,-1,-1,-1,-1,0,1,1,1,1,1,1,1,1,1,1,1,1,1],
[-1,-1,-1,-1,0,1,1,1,1,1,1,1,1,1,1,1,1,1,1],
[-1,-1,-1,0,1,1,1,1,1,1,1,1,1,1,1,1,1,1,1],
[-1,-1,0,1,1,1,1,1,1,1,1,1,1,1,1,1,1,1,1],
[-1,0,1,1,1,1,1,1,1,1,1,1,1,1,1,1,1,1,1],
[0,1,1,1,1,1,1,1,1,1,1,1,1,1,1,1,1,1,1]];
const P12_V = [
[1,1,1,1,1,1,1,1,1,1,1,1,1,1,1,1,1,1,0],
[1,1,1,1,1,1,1,1,1,1,1,1,1,1,1,1,1,0,-1],
[1,1,1,1,1,1,1,1,1,1,1,1,1,1,1,1,0,-1,-1],
[1,1,1,1,1,1,1,1,1,1,1,1,1,1,1,0,-1,-1,-1],
[1,1,1,1,1,1,1,1,1,1,1,1,1,1,0,-1,-1,-1,-1],
[1,1,1,1,1,1,1,1,1,1,1,1,1,0,-1,-1,-1,-1,-1],
[1,1,1,1,1,1,1,27,32,28,25,21,0,-1,-1,-1,-1,-1,-1],
[1,1,1,1,1,1,28,32,-28,-25,21,14,-14,-1,-1,-1,-1,-1,-1],
[1,1,1,1,1,1,34,-30,-32,-27,10,-16,-18,-1,-1,-1,-1,-1,-1],
[1,1,1,1,1,1,28,-25,-28,0,32,28,-21,-1,-1,-1,-1,-1,-1],
[1,1,1,1,1,1,21,21,-10,30,34,35,-25,-1,-1,-1,-1,-1,-1],
[1,1,1,1,1,1,18,-13,-16,27,32,-25,-21,-1,-1,-1,-1,-1,-1],
[1,1,1,1,1,1,0,-14,-18,-20,-23,-20,-1,-1,-1,-1,-1,-1,-1],
[1,1,1,1,1,0,-1,-1,-1,-1,-1,-1,-1,-1,-1,-1,-1,-1,-1],
[1,1,1,1,0,-1,-1,-1,-1,-1,-1,-1,-1,-1,-1,-1,-1,-1,-1],
[1,1,1,0,-1,-1,-1,-1,-1,-1,-1,-1,-1,-1,-1,-1,-1,-1,-1],
[1,1,0,-1,-1,-1,-1,-1,-1,-1,-1,-1,-1,-1,-1,-1,-1,-1,-1],
[1,0,-1,-1,-1,-1,-1,-1,-1,-1,-1,-1,-1,-1,-1,-1,-1,-1,-1],
[0,-1,-1,-1,-1,-1,-1,-1,-1,-1,-1,-1,-1,-1,-1,-1,-1,-1,-1]];

const P13_U = [
[0,0,0,0,0,0,0,0,0,0,0,0,0,0,0,0,0,0,0],
[0,0,0,0,0,0,0,0,0,0,0,0,0,0,0,0,0,0,0],
[0,0,0,0,0,0,0,0,0,0,0,0,0,0,0,0,0,0,0],
[0,0,0,0,0,0,0,0,0,0,0,0,0,0,0,0,0,0,0],
[0,0,0,0,0,0,0,0,0,0,0,0,0,0,0,0,0,0,0],
[0,0,0,0,0,0,0,0,0,0,0,0,0,0,0,0,0,0,0],
[0,0,0,0,0,0,28,25,30,22,28,20,0,0,0,0,0,0,0],
[0,0,0,0,0,0,-15,-20,25,25,30,28,22,0,0,0,0,0,0],
[0,0,0,0,0,0,-22,-25,-15,20,30,32,30,0,0,0,0,0,0],
[0,0,0,0,0,0,-26,-30,-20,0,20,28,25,0,0,0,0,0,0],
[0,0,0,0,0,0,-30,-36,-30,-20,15,30,28,0,0,0,0,0,0],
[0,0,0,0,0,0,-24,-30,-32,-28,-25,20,22,0,0,0,0,0,0],
[0,0,0,0,0,0,0,-22,-28,-25,-20,-15,-28,0,0,0,0,0,0],
[0,0,0,0,0,0,0,0,0,0,0,0,0,0,0,0,0,0,0],
[0,0,0,0,0,0,0,0,0,0,0,0,0,0,0,0,0,0,0],
[0,0,0,0,0,0,0,0,0,0,0,0,0,0,0,0,0,0,0],
[0,0,0,0,0,0,0,0,0,0,0,0,0,0,0,0,0,0,0],
[0,0,0,0,0,0,0,0,0,0,0,0,0,0,0,0,0,0,0],
[0,0,0,0,0,0,0,0,0,0,0,0,0,0,0,0,0,0,0]];
const P13_V = [
[1,1,1,1,1,0,0,0,0,0,0,0,0,0,0,0,0,0,0],
[1,1,1,1,1,0,0,0,0,0,0,0,0,0,0,0,0,0,0],
[1,1,1,1,1,0,0,0,0,0,0,0,0,0,0,0,0,0,0],
[1,1,1,1,1,0,0,0,0,0,0,0,0,0,0,0,0,0,0],
[1,1,1,1,1,0,0,0,0,0,0,0,0,0,0,0,0,0,0],
[1,1,1,1,1,0,0,0,0,0,0,0,0,0,0,0,0,0,0],
[1,1,1,1,1,0,32,30,35,33,42,30,0,0,0,0,0,0,0],
[1,1,1,1,1,0,-22,-30,38,38,45,42,33,0,0,0,0,0,0],
[1,1,1,1,1,0,-33,-38,-22,30,45,48,45,0,0,0,0,0,0],
[1,1,1,1,1,0,-40,-45,-30,0,30,42,38,0,0,0,0,0,0],
[1,1,1,1,1,0,-45,-56,-45,-30,22,45,42,0,0,0,0,0,0],
[1,1,1,1,1,0,-36,-45,-48,-42,-38,30,33,0,0,0,0,0,0],
[1,1,1,1,1,0,0,-33,-42,-38,-30,-22,-32,0,0,0,0,0,0],
[1,1,1,1,1,0,0,0,0,0,0,0,0,0,0,0,0,0,0],
[1,1,1,1,1,0,0,0,0,0,0,0,0,0,0,0,0,0,0],
[1,1,1,1,1,0,0,0,0,0,0,0,0,0,0,0,0,0,0],
[1,1,1,1,1,0,0,0,0,0,0,0,0,0,0,0,0,0,0],
[1,1,1,1,1,0,0,0,0,0,0,0,0,0,0,0,0,0,0],
[1,1,1,1,1,0,0,0,0,0,0,0,0,0,0,0,0,0,0]];

const P14_U = [
[2,2,2,2,2,2,2,2,2,2,2,2,2,2,2,2,2,2,2],
[2,2,2,2,2,2,2,2,2,2,2,2,2,2,2,2,2,2,2],
[1,1,1,1,1,1,1,1,1,1,1,1,1,1,1,1,1,1,1],
[1,1,1,1,1,1,1,1,1,1,1,1,1,1,1,1,1,1,1],
[1,1,1,1,1,1,1,1,1,1,1,1,1,1,1,1,1,1,1],
[1,1,1,1,1,1,1,1,1,1,1,1,1,1,1,1,1,1,1],
[1,1,1,1,1,1,1,-23,-27,-28,-27,-23,1,1,1,1,1,1,1],
[0,0,0,0,0,0,-16,-20,-11,-12,-11,-20,-16,0,0,0,0,0,0],
[0,0,0,0,0,0,-9,-5,-4,-5,-4,-5,-9,0,0,0,0,0,0],
[0,0,0,0,0,0,0,0,0,0,0,0,0,0,0,0,0,0,0],
[0,0,0,0,0,0,9,5,4,5,4,5,9,0,0,0,0,0,0],
[0,0,0,0,0,0,16,20,11,12,11,20,16,0,0,0,0,0,0],
[-1,-1,-1,-1,-1,-1,-1,23,27,28,27,23,-1,-1,-1,-1,-1,-1,-1],
[-1,-1,-1,-1,-1,-1,-1,-1,-1,-1,-1,-1,-1,-1,-1,-1,-1,-1,-1],
[-1,-1,-1,-1,-1,-1,-1,-1,-1,-1,-1,-1,-1,-1,-1,-1,-1,-1,-1],
[-1,-1,-1,-1,-1,-1,-1,-1,-1,-1,-1,-1,-1,-1,-1,-1,-1,-1,-1],
[-1,-1,-1,-1,-1,-1,-1,-1,-1,-1,-1,-1,-1,-1,-1,-1,-1,-1,-1],
[-2,-2,-2,-2,-2,-2,-2,-2,-2,-2,-2,-2,-2,-2,-2,-2,-2,-2,-2],
[-2,-2,-2,-2,-2,-2,-2,-2,-2,-2,-2,-2,-2,-2,-2,-2,-2,-2,-2]];
const P14_V = [
[4,4,3,3,2,2,1,1,0,0,0,-1,-1,-2,-2,-3,-3,-4,-4],
[4,4,3,3,2,2,1,1,0,0,0,-1,-1,-2,-2,-3,-3,-4,-4],
[4,4,3,3,2,2,1,1,0,0,0,-1,-1,-2,-2,-3,-3,-4,-4],
[4,4,3,3,2,2,1,1,0,0,0,-1,-1,-2,-2,-3,-3,-4,-4],
[4,4,3,3,2,2,1,1,0,0,0,-1,-1,-2,-2,-3,-3,-4,-4],
[4,4,3,3,2,2,1,1,0,0,0,-1,-1,-2,-2,-3,-3,-4,-4],
[4,4,3,3,2,2,1,-33,-19,0,19,33,-1,-2,-2,-3,-3,-4,-4],
[4,4,3,3,2,2,-50,-42,-6,0,6,42,50,-2,-2,-3,-3,-4,-4],
[4,4,3,3,2,2,-57,-13,-4,0,4,13,57,-2,-2,-3,-3,-4,-4],
[4,4,3,3,2,2,-60,-14,-6,0,6,14,60,-2,-2,-3,-3,-4,-4],
[4,4,3,3,2,2,-57,-13,-4,0,4,13,57,-2,-2,-3,-3,-4,-4],
[4,4,3,3,2,2,-50,-42,-6,0,6,42,50,-2,-2,-3,-3,-4,-4],
[4,4,3,3,2,2,1,-33,-19,0,19,33,-1,-2,-2,-3,-3,-4,-4],
[4,4,3,3,2,2,1,1,0,0,0,-1,-1,-2,-2,-3,-3,-4,-4],
[4,4,3,3,2,2,1,1,0,0,0,-1,-1,-2,-2,-3,-3,-4,-4],
[4,4,3,3,2,2,1,1,0,0,0,-1,-1,-2,-2,-3,-3,-4,-4],
[4,4,3,3,2,2,1,1,0,0,0,-1,-1,-2,-2,-3,-3,-4,-4],
[4,4,3,3,2,2,1,1,0,0,0,-1,-1,-2,-2,-3,-3,-4,-4],
[4,4,3,3,2,2,1,1,0,0,0,-1,-1,-2,-2,-3,-3,-4,-4]];

const P15_U = [
[4,5,5,5,5,5,5,5,5,5,5,5,5,5,5,5,5,5,4],
[4,5,5,5,5,5,5,5,5,5,5,5,5,5,5,5,5,5,4],
[3,4,4,4,4,4,4,4,4,4,4,4,4,4,4,4,4,4,3],
[2,3,3,3,3,3,3,3,3,3,3,3,3,3,3,3,3,3,2],
[2,3,3,3,3,3,3,3,3,3,3,3,3,3,3,3,3,3,2],
[1,2,2,2,2,2,2,2,2,2,2,2,2,2,2,2,2,2,1],
[1,2,2,2,2,2,2,-23,18,41,41,37,2,2,2,2,2,2,1],
[0,1,1,1,1,1,-37,-32,-18,32,37,46,41,1,1,1,1,1,0],
[0,1,1,1,1,1,-46,-41,-28,23,37,46,51,1,1,1,1,1,0],
[0,0,0,0,0,0,-46,-41,-28,0,28,41,46,0,0,0,0,0,0],
[0,-1,-1,-1,-1,-1,-51,-46,-37,-23,28,41,46,-1,-1,-1,-1,-1,0],
[0,-1,-1,-1,-1,-1,-41,-46,-37,-32,18,32,37,-1,-1,-1,-1,-1,0],
[-1,-2,-2,-2,-2,-2,-2,-37,-41,-41,-18,23,-2,-2,-2,-2,-2,-2,-1],
[-1,-2,-2,-2,-2,-2,-2,-2,-2,-2,-2,-2,-2,-2,-2,-2,-2,-2,-1],
[-2,-3,-3,-3,-3,-3,-3,-3,-3,-3,-3,-3,-3,-3,-3,-3,-3,-3,-2],
[-2,-3,-3,-3,-3,-3,-3,-3,-3,-3,-3,-3,-3,-3,-3,-3,-3,-3,-2],
[-3,-4,-4,-4,-4,-4,-4,-4,-4,-4,-4,-4,-4,-4,-4,-4,-4,-4,-3],
[-4,-5,-5,-5,-5,-5,-5,-5,-5,-5,-5,-5,-5,-5,-5,-5,-5,-5,-4],
[-4,-5,-5,-5,-5,-5,-5,-5,-5,-5,-5,-5,-5,-5,-5,-5,-5,-5,-4]];
const P15_V = [
[0,0,0,0,0,0,0,0,0,0,0,0,0,0,0,0,0,0,0],
[0,0,0,0,0,0,0,0,0,0,0,0,0,0,0,0,0,0,0],
[0,0,0,0,0,0,0,0,0,0,0,0,0,0,0,0,0,0,0],
[0,0,0,0,0,0,0,0,0,0,0,0,0,0,0,0,0,0,0],
[0,0,0,0,0,0,0,0,0,0,0,0,0,0,0,0,0,0,0],
[0,0,0,0,0,0,0,0,0,0,0,0,0,0,0,0,0,0,0],
[0,0,0,0,0,0,0,-10,8,17,17,15,0,0,0,0,0,0,0],
[0,0,0,0,0,0,-15,-13,-8,13,15,19,17,0,0,0,0,0,0],
[0,0,0,0,0,0,-19,-17,-11,10,15,19,21,0,0,0,0,0,0],
[0,0,0,0,0,0,-19,-17,-11,0,11,17,19,0,0,0,0,0,0],
[0,0,0,0,0,0,-21,-19,-15,-10,11,17,19,0,0,0,0,0,0],
[0,0,0,0,0,0,-17,-19,-15,-13,8,13,15,0,0,0,0,0,0],
[0,0,0,0,0,0,0,-15,-17,-17,-8,10,0,0,0,0,0,0,0],
[0,0,0,0,0,0,0,0,0,0,0,0,0,0,0,0,0,0,0],
[0,0,0,0,0,0,0,0,0,0,0,0,0,0,0,0,0,0,0],
[0,0,0,0,0,0,0,0,0,0,0,0,0,0,0,0,0,0,0],
[0,0,0,0,0,0,0,0,0,0,0,0,0,0,0,0,0,0,0],
[0,0,0,0,0,0,0,0,0,0,0,0,0,0,0,0,0,0,0],
[0,0,0,0,0,0,0,0,0,0,0,0,0,0,0,0,0,0,0]];

const P16_U = [
[3,3,2,2,2,1,1,1,0,0,0,-1,-1,-1,-2,-2,-2,-3,-3],
[3,3,2,2,2,1,1,1,0,0,0,-1,-1,-1,-2,-2,-2,-3,-3],
[3,3,2,2,2,1,1,1,0,0,0,-1,-1,-1,-2,-2,-2,-3,-3],
[3,3,2,2,2,1,1,1,0,0,0,-1,-1,-1,-2,-2,-2,-3,-3],
[3,3,2,2,2,1,1,1,0,0,0,-1,-1,-1,-2,-2,-2,-3,-3],
[3,3,2,2,2,1,1,1,0,0,0,-1,-1,-1,-2,-2,-2,-3,-3],
[3,3,2,2,2,1,1,25,12,0,-12,-25,-1,-1,-2,-2,-2,-3,-3],
[3,3,2,2,2,1,35,22,10,0,-10,-22,-35,-1,-2,-2,-2,-3,-3],
[3,3,2,2,2,1,28,15,8,0,-8,-15,-28,-1,-2,-2,-2,-3,-3],
[3,3,2,2,2,1,55,40,20,0,-20,-40,-55,-1,-2,-2,-2,-3,-3],
[3,3,2,2,2,1,28,15,8,0,-8,-15,-28,-1,-2,-2,-2,-3,-3],
[3,3,2,2,2,1,35,22,10,0,-10,-22,-35,-1,-2,-2,-2,-3,-3],
[3,3,2,2,2,1,1,25,12,0,-12,-25,-1,-1,-2,-2,-2,-3,-3],
[3,3,2,2,2,1,1,1,0,0,0,-1,-1,-1,-2,-2,-2,-3,-3],
[3,3,2,2,2,1,1,1,0,0,0,-1,-1,-1,-2,-2,-2,-3,-3],
[3,3,2,2,2,1,1,1,0,0,0,-1,-1,-1,-2,-2,-2,-3,-3],
[3,3,2,2,2,1,1,1,0,0,0,-1,-1,-1,-2,-2,-2,-3,-3],
[3,3,2,2,2,1,1,1,0,0,0,-1,-1,-1,-2,-2,-2,-3,-3],
[3,3,2,2,2,1,1,1,0,0,0,-1,-1,-1,-2,-2,-2,-3,-3]];
const P16_V = [
[3,3,3,3,3,3,3,3,3,3,3,3,3,3,3,3,3,3,3],
[3,3,3,3,3,3,3,3,3,3,3,3,3,3,3,3,3,3,3],
[2,2,2,2,2,2,2,2,2,2,2,2,2,2,2,2,2,2,2],
[2,2,2,2,2,2,2,2,2,2,2,2,2,2,2,2,2,2,2],
[2,2,2,2,2,2,2,2,2,2,2,2,2,2,2,2,2,2,2],
[1,1,1,1,1,1,1,1,1,1,1,1,1,1,1,1,1,1,1],
[1,1,1,1,1,1,1,45,40,42,40,45,1,1,1,1,1,1,1],
[1,1,1,1,1,1,55,45,40,45,40,45,55,1,1,1,1,1,1],
[0,0,0,0,0,0,50,35,30,30,30,35,50,0,0,0,0,0,0],
[0,0,0,0,0,0,1,0,0,0,0,0,-1,0,0,0,0,0,0],
[0,0,0,0,0,0,-50,-35,-30,-30,-30,-35,-50,0,0,0,0,0,0],
[-1,-1,-1,-1,-1,-1,-55,-45,-40,-45,-40,-45,-55,-1,-1,-1,-1,-1,-1],
[-1,-1,-1,-1,-1,-1,-1,-45,-40,-42,-40,-45,-1,-1,-1,-1,-1,-1,-1],
[-1,-1,-1,-1,-1,-1,-1,-1,-1,-1,-1,-1,-1,-1,-1,-1,-1,-1,-1],
[-2,-2,-2,-2,-2,-2,-2,-2,-2,-2,-2,-2,-2,-2,-2,-2,-2,-2,-2],
[-2,-2,-2,-2,-2,-2,-2,-2,-2,-2,-2,-2,-2,-2,-2,-2,-2,-2,-2],
[-2,-2,-2,-2,-2,-2,-2,-2,-2,-2,-2,-2,-2,-2,-2,-2,-2,-2,-2],
[-3,-3,-3,-3,-3,-3,-3,-3,-3,-3,-3,-3,-3,-3,-3,-3,-3,-3,-3],
[-3,-3,-3,-3,-3,-3,-3,-3,-3,-3,-3,-3,-3,-3,-3,-3,-3,-3,-3]];

const fields = [[P1_U,P1_V],[P2_U,P2_V],[P3_U,P3_V],[P4_U,P4_V],[P5_U,P5_V],[P6_U,P6_V],[P7_U,P7_V],[P8_U,P8_V],
  [P9_U,P9_V],[P10_U,P10_V],[P11_U,P11_V],[P12_U,P12_V],[P13_U,P13_V],[P14_U,P14_V],[P15_U,P15_V],[P16_U,P16_V]];

const W = 944, H = 1016;
const SCALE = 0.1, PXU = 11.0;
const ink = '#262626';
const traces = [];
const layout = {
  width: W, height: H, margin: {l:0, r:0, t:0, b:0},
  paper_bgcolor: '#fff', plot_bgcolor: '#fff', showlegend: false,
  font: {family: 'DejaVu Sans, sans-serif', color: ink},
  annotations: []
};
fields.forEach(([U, V], p) => {
  const r = Math.floor(p / 4), c = p % 4;
  const x0 = 22.3 + 232.35 * c, x1 = x0 + 218.4;
  const y0 = 24 + 250 * r, y1 = y0 + 218.4;
  const xa = p === 0 ? 'x' : 'x' + (p + 1);
  const ya = p === 0 ? 'y' : 'y' + (p + 1);
  const common = {
    range: [-9.92, 9.93], tickvals: tickVals, ticktext: tickText,
    ticks: 'outside', ticklen: 3.5, tickwidth: 0.8, tickcolor: ink,
    showline: true, mirror: true, linecolor: ink, linewidth: 1,
    showgrid: false, zeroline: false, fixedrange: true,
    tickfont: {size: 8.5, color: '#3a3a3a', family: 'DejaVu Sans, sans-serif'}
  };
  layout[p === 0 ? 'xaxis' : 'xaxis' + (p + 1)] = Object.assign({}, common, {
    domain: [x0 / W, x1 / W], anchor: ya, showticklabels: r === 3
  });
  layout[p === 0 ? 'yaxis' : 'yaxis' + (p + 1)] = Object.assign({}, common, {
    domain: [1 - y1 / H, 1 - y0 / H], anchor: xa, showticklabels: c === 0
  });
  layout.annotations.push({
    text: titles[p], xref: 'paper', yref: 'paper', x: (x0 + x1) / 2 / W, y: 1 - (y0 - 11) / H,
    xanchor: 'center', yanchor: 'middle', showarrow: false,
    font: {size: 15, color: ink, family: 'DejaVu Sans, sans-serif'}
  });
  const lx = [], ly = [], hx = [], hy = [], ha = [], hs = [], hsym = [], hc = [];
  for (let i = 0; i < U.length; i++) {
    for (let j = 0; j < U[i].length; j++) {
      const px = gridX[j], py = gridY[i];
      const u = U[i][j] * SCALE, v = V[i][j] * SCALE;
      const L = Math.hypot(u, v) * PXU;
      if (L < 0.8) {
        hx.push(px); hy.push(py); ha.push(0); hs.push(1.6); hsym.push('circle'); hc.push('#c8c8c8');
        continue;
      }
      lx.push(px, px + u, null); ly.push(py, py + v, null);
      hx.push(px + u); hy.push(py + v); ha.push(Math.atan2(u, v) * 180 / Math.PI);
      hs.push(Math.min(4, L * 0.85)); hsym.push('arrow'); hc.push('#1a1a1a');
    }
  }
  traces.push({type: 'scatter', mode: 'lines', x: lx, y: ly, xaxis: xa, yaxis: ya,
    line: {color: '#1a1a1a', width: 0.9}, hoverinfo: 'skip', connectgaps: false});
  traces.push({type: 'scatter', mode: 'markers', x: hx, y: hy, xaxis: xa, yaxis: ya,
    marker: {symbol: hsym, size: hs, angle: ha, color: hc, line: {width: 0}}, hoverinfo: 'skip'});
});
Plotly.newPlot('chart', traces, layout, {displayModeBar: false, staticPlot: true});
</script>
</body></html>
